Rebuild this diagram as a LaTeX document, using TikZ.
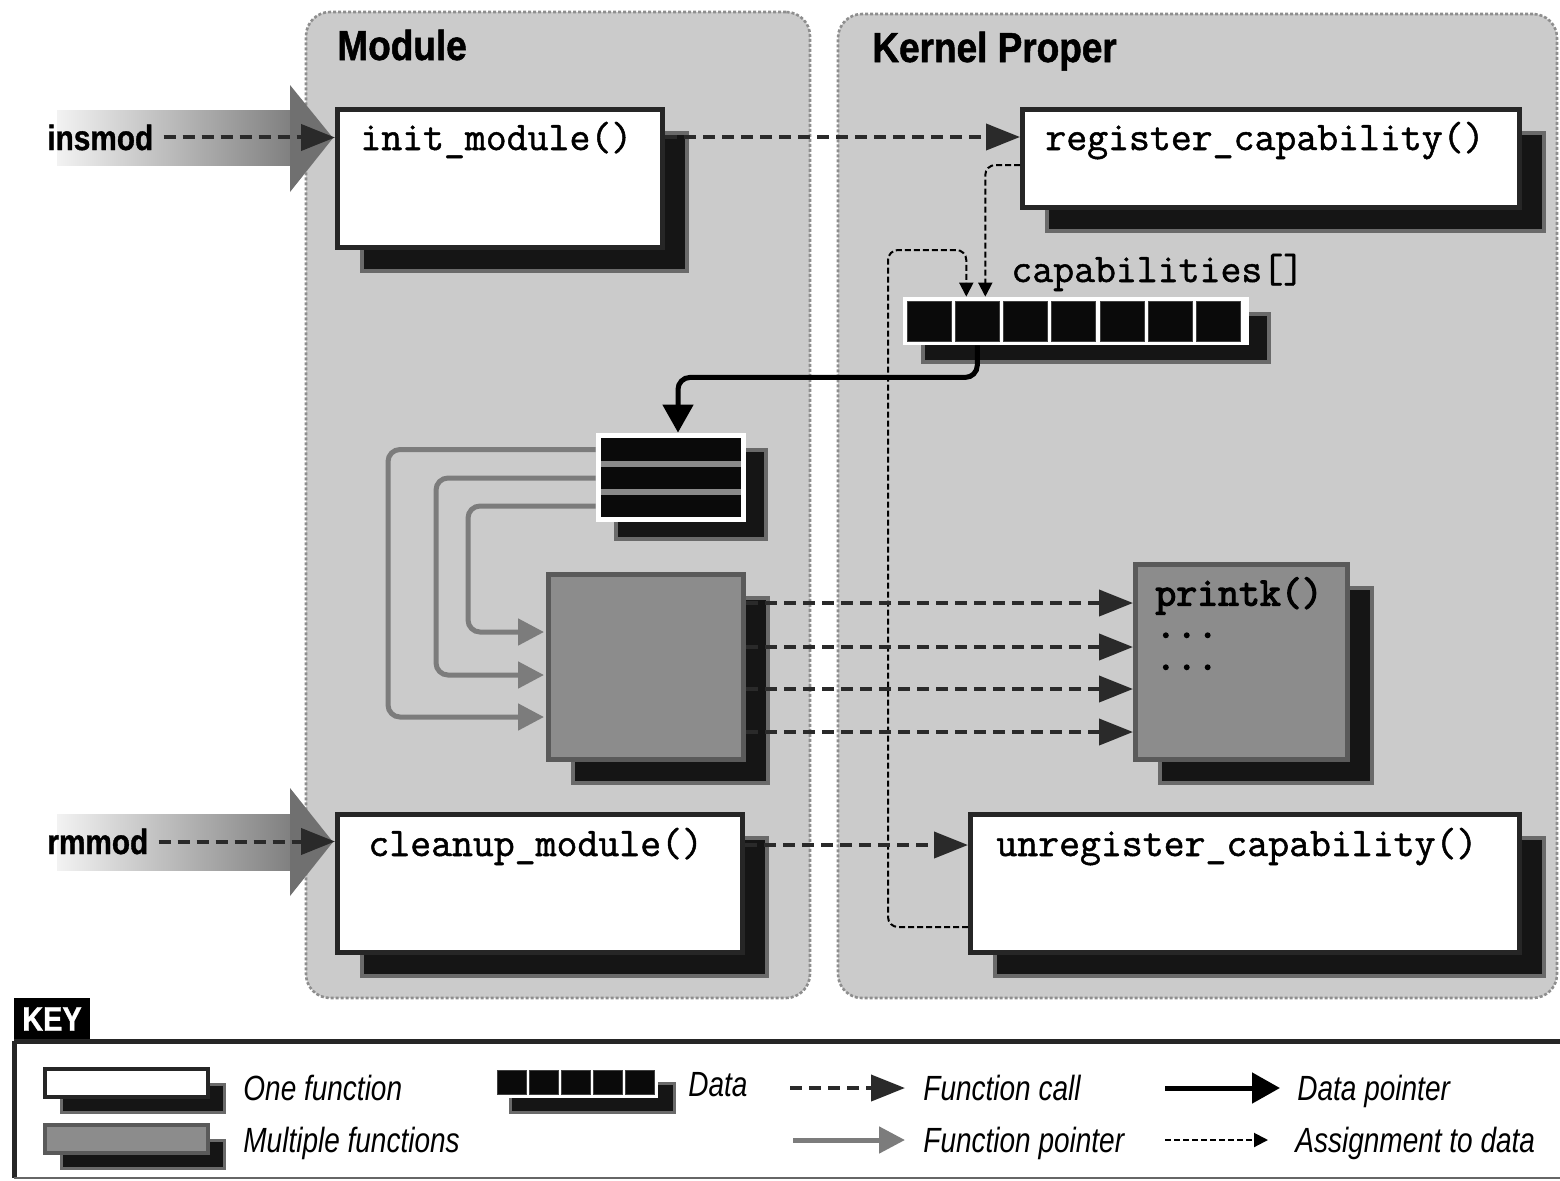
\documentclass[tikz,border=0pt]{standalone}
\usepackage{fontspec}
\usetikzlibrary{arrows.meta,shadows,calc}
\newfontfamily\hdrfont[FakeStretch=0.88,FakeBold=1.2]{Liberation Sans}
\newfontfamily\cmdfont[FakeStretch=0.85,FakeBold=1]{Liberation Sans}
\newfontfamily\keyfont[FakeStretch=0.8]{Liberation Sans}
\newfontfamily\codefont[FakeBold=1.2]{Latin Modern Mono}
\newfontfamily\codebold[FakeBold=3]{Latin Modern Mono}

\definecolor{panelfill}{HTML}{CBCBCB}
\definecolor{panelline}{HTML}{8E8E8E}
\definecolor{boxline}{HTML}{262626}
\definecolor{shade}{HTML}{151515}
\definecolor{fringe}{HTML}{6A6A6A}
\definecolor{mffill}{HTML}{8C8C8C}
\definecolor{mfline}{HTML}{5A5A5A}
\definecolor{ptrgray}{HTML}{7C7C7C}
\definecolor{callc}{HTML}{2A2A2A}
\definecolor{cellc}{HTML}{0A0A0A}
\definecolor{rowsep}{HTML}{8A8A8A}

\tikzset{
  panel/.style={draw=panelline, fill=panelfill, line width=1.3pt,
    dash pattern=on 1.5pt off 1pt, rounded corners=12pt, inner sep=0pt},
  hdr/.style={font=\hdrfont\bfseries\fontsize{21}{21}\selectfont, inner sep=0pt, anchor=base west},
  cmd/.style={font=\cmdfont\bfseries\fontsize{17.5}{17.5}\selectfont, inner sep=0pt, anchor=base west},
  code/.style={font=\codefont\fontsize{20.3}{21}\selectfont, inner sep=0pt, anchor=base west},
  keytxt/.style={font=\keyfont\itshape\fontsize{17.5}{17.5}\selectfont, inner sep=0pt, anchor=base west},
  fnbox/.style={draw=boxline, line width=2.5pt, fill=white, inner sep=0pt},
  mfbox/.style={fnbox, fill=mffill, draw=mfline},
  bigshade/.style={general shadow={shadow xshift=12pt, shadow yshift=-11.5pt,
    fill=shade, draw=fringe, line width=2pt}},
  keyshade/.style={general shadow={shadow xshift=8pt, shadow yshift=-7.5pt,
    fill=shade, draw=fringe, line width=1.5pt}},
  datashade/.style={general shadow={shadow xshift=10pt, shadow yshift=-8.5pt,
    fill=shade, draw=fringe, line width=2pt}},
  cellbox/.style={fill=cellc, draw=black!75, line width=0.5pt, inner sep=0pt},
  fcall/.style={draw=callc, line width=2pt, dash pattern=on 6pt off 3.5pt,
    -{Triangle[length=17pt,width=13pt]}},
  fptr/.style={draw=ptrgray, line width=2.5pt, rounded corners=6pt,
    -{Triangle[length=13pt,width=13pt,fill=ptrgray]}},
  dptr/.style={draw=black, line width=2.5pt, rounded corners=6pt,
    -{Triangle[length=14pt,width=15pt]}},
  asg/.style={draw=black, line width=1pt, dash pattern=on 3pt off 1.5pt, rounded corners=5pt,
    -{Triangle[length=7pt,width=7pt]}},
}

\begin{document}
\begin{tikzpicture}[x=0.5pt,y=-0.5pt]
\useasboundingbox (0,0) rectangle (1560,1180);
\fill[white] (0,0) rectangle (1560,1180);

% the two regions
\node[panel, minimum width=252pt, minimum height=493pt] (modp) at (558,505) {};
\node[panel, minimum width=359.5pt, minimum height=492pt] (kerp) at (1197.5,506) {};
\node[hdr] (modh) at (337,60) {Module};
\node[hdr] (kerh) at (872,62) {Kernel Proper};

% wide entry arrows for insmod and rmmod
\shade[left color=black!5, right color=black!50] (57,110) rectangle (292,165);
\fill[black!56] (290,85) -- (333,138) -- (290,192) -- cycle;
\shade[left color=black!5, right color=black!50] (57,814) rectangle (292,870);
\fill[black!56] (290,788) -- (333,842) -- (290,896) -- cycle;

% function boxes
\node[fnbox, bigshade, minimum width=162.5pt, minimum height=69pt] (init) at (500,178.5) {};
\node[fnbox, bigshade, minimum width=248.5pt, minimum height=49pt] (reg) at (1271,158.5) {};
\node[fnbox, bigshade, minimum width=202.5pt, minimum height=69pt] (clean) at (540,883.5) {};
\node[fnbox, bigshade, minimum width=274.5pt, minimum height=69pt] (unreg) at (1245,883.5) {};
\node[mfbox, bigshade, minimum width=97.5pt, minimum height=92.5pt] (mf) at (646,667) {};
\node[mfbox, bigshade, minimum width=106pt, minimum height=97.5pt] (pk) at (1241.5,662) {};

\node[code] (init-t) at (360,150) {init\_module()};
\node[code] (reg-t) at (1045,150) {register\_capability()};
\node[code] (clean-t) at (368,856) {cleanup\_module()};
\node[code] (unreg-t) at (996,856) {unregister\_capability()};
\node[inner sep=0pt, anchor=north west, align=left,
  font=\codebold\fontsize{20.3}{16}\selectfont] (pk-t) at (1155,577) {printk()\\...\\...};

% the capabilities[] array
\node[code] (caps-t) at (1011,282) {capabilities[]};
\node[fill=white, inner sep=0pt, datashade, minimum width=173pt, minimum height=24pt] (caps) at (1076,321) {};
\foreach \i in {1,...,7}
  \node[cellbox, minimum width=22pt, minimum height=20pt] (cap-\i) at ({929+48.3*(\i-1)},321) {};

% the table of function pointers
\node[fill=white, inner sep=0pt, datashade, minimum width=75pt, minimum height=44.5pt] (dbox) at (671,477.5) {};
\node[fill=rowsep, inner sep=0pt, minimum width=70pt, minimum height=39.5pt] (dinner) at (671,477.5) {};
\node[fill=cellc, inner sep=0pt, minimum width=70pt, minimum height=11.5pt] (r1) at (671,449.5) {};
\node[fill=cellc, inner sep=0pt, minimum width=70pt, minimum height=11pt] (r2) at (671,478) {};
\node[fill=cellc, inner sep=0pt, minimum width=70pt, minimum height=11pt] (r3) at (671,506) {};

% function pointers
\draw[fptr] (r1.west -| dbox.west) -| (388,717) -- ($(mf.west)+(-2,50)$);
\draw[fptr] (r2.west -| dbox.west) -| (436,675) -- ($(mf.west)+(-2,8)$);
\draw[fptr] (r3.west -| dbox.west) -| (468,632) -- ($(mf.west)+(-2,-35)$);

% data pointer
\draw[dptr] (cap-2.south |- caps.south) -- ++(0,32) -| ($(dbox.north)+(7,0)$);

% assignments to the array
\draw[asg] ($(reg.west)+(0,6.5)$) -| ($(cap-2.north |- caps.north)+(8,0)$);
\draw[asg] ($(unreg.west)+(0,43.5)$) -| (888,250) -| ($(cap-2.north |- caps.north)+(-11,0)$);

% function calls
\coordinate (ir) at ($(init.east)+(0,-41.5)$);
\draw[fcall] (ir) -- (ir -| reg.west);
\coordinate (cu) at ($(clean.east)+(0,-38.5)$);
\draw[fcall] (cu) -- (cu -| unreg.west);
\foreach \dy [count=\k] in {-64,-20,22,65} {
  \coordinate (fc\k) at ($(mf.east)+(0,\dy)$);
  \draw[fcall] (fc\k) -- (fc\k -| pk.west);
}

% entry points
\node[cmd] (ins) at (47,150) {insmod};
\node[cmd] (rmm) at (47,854) {rmmod};
\draw[fcall, shorten <=5pt] (ins.east) -- (ins.east -| init.west);
\draw[fcall, shorten <=5pt] (rmm.east) -- (rmm.east -| clean.west);

% key
\node[fill=black, text=white, font=\cmdfont\bfseries\fontsize{17}{17}\selectfont,
  minimum width=38pt, minimum height=21.5pt, inner sep=0pt] (keyt) at (52,1019) {KEY};
\draw[line width=2.5pt, boxline] (14,1041) -- (1560,1041);
\draw[line width=2.5pt, boxline] (14,1041) -- (14,1178);
\draw[line width=1pt, black!60] (14,1178) -- (1560,1178);

\node[fnbox, keyshade, line width=2pt, minimum width=81.5pt, minimum height=14pt] (kfn) at (126.5,1083) {};
\node[mfbox, keyshade, line width=2pt, minimum width=81.5pt, minimum height=14pt] (kmf) at (126.5,1139) {};
\node[keytxt] (kfn-t) at (243,1100) {One function};
\node[keytxt] (kmf-t) at (243,1152) {Multiple functions};

\node[fill=white, inner sep=0pt, keyshade, minimum width=82pt, minimum height=14.5pt] (kdata) at (576,1083) {};
\foreach \i in {1,...,5}
  \node[cellbox, minimum width=14.5pt, minimum height=12pt] (kd-\i) at ({512+32*(\i-1)},1082) {};
\node[keytxt] (kdata-t) at (688,1096) {Data};

\node[keytxt] (kfc-t) at (923,1100) {Function call};
\node[keytxt] (kfp-t) at (923,1152) {Function pointer};
\node[keytxt] (kdp-t) at (1297,1100) {Data pointer};
\node[keytxt] (kas-t) at (1295,1152) {Assignment to data};
\coordinate (kfc) at (790,1088);
\coordinate (kfp) at (793,1140);
\coordinate (kdp) at (1165,1088);
\coordinate (kas) at (1165,1140);
\draw[fcall] (kfc) -- ($(kfc -| kfc-t.west)+(-18,0)$);
\draw[fptr] (kfp) -- ($(kfp -| kfp-t.west)+(-18,0)$);
\draw[dptr] (kdp) -- ($(kdp -| kdp-t.west)+(-17,0)$);
\draw[asg] (kas) -- ($(kas -| kas-t.west)+(-27,0)$);
\end{tikzpicture}
\end{document}
